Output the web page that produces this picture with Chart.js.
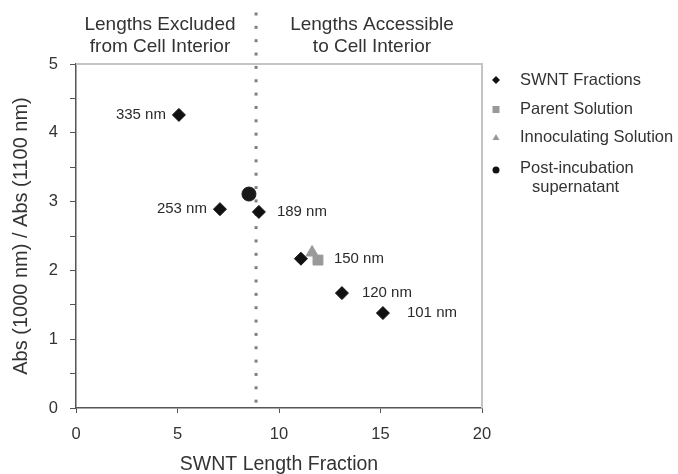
<!DOCTYPE html>
<html>
<head>
<meta charset="utf-8">
<script src="https://cdn.jsdelivr.net/npm/chart.js@4/dist/chart.umd.min.js"></script>
<style>
  html, body { margin: 0; padding: 0; background: #fff; }
  #wrap { width: 678px; height: 474px; }
</style>
</head>
<body>
<div id="wrap"><canvas id="myChart" width="678" height="474"></canvas></div>
<script>
// SWNT fractions
const fractionX = [5.07, 7.09, 9.01, 11.08, 13.1, 15.12];
const fractionY = [4.26, 2.89, 2.85, 2.17, 1.67, 1.38];
const fractionLabels = ['335 nm', '253 nm', '189 nm', '150 nm', '120 nm', '101 nm'];
// single points
const parentPoint = [11.92, 2.15];
const innocPoint = [11.63, 2.26];
const postPoint = [8.52, 3.11];
const cutoffX = 8.87;
const xTicks = [0, 5, 10, 15, 20];
const yTicks = [0, 1, 2, 3, 4, 5];

const FONT = '"Liberation Sans", Arial, sans-serif';
// label offsets from point (px), negative = text ends left of point
const labelGap = [-13, -13, 18, 33, 20, 24];

const extras = {
    id: 'extras',
    beforeDatasetsDraw(chart) {
        const { ctx, chartArea: a, scales: { x } } = chart;
        ctx.save();
        ctx.strokeStyle = '#c4c4c4';
        ctx.lineWidth = 2;
        ctx.beginPath();
        ctx.moveTo(a.left, a.top);
        ctx.lineTo(a.right, a.top);
        ctx.lineTo(a.right, a.bottom);
        ctx.stroke();
        // dotted cutoff line
        const cx = x.getPixelForValue(cutoffX);
        ctx.fillStyle = '#808080';
        for (let py = 14; py < a.bottom - 2; py += 13.35) {
            ctx.fillRect(cx - 1.5, py - 1.5, 3, 3);
        }
        ctx.restore();
    },
    afterDatasetsDraw(chart) {
        const { ctx, scales: { x, y } } = chart;
        ctx.save();
        ctx.fillStyle = '#2a2a2a';
        ctx.font = '15px ' + FONT;
        ctx.textBaseline = 'middle';
        fractionX.forEach((v, i) => {
            const px = x.getPixelForValue(v);
            const py = y.getPixelForValue(fractionY[i]);
            ctx.textAlign = labelGap[i] < 0 ? 'right' : 'left';
            ctx.fillText(fractionLabels[i], px + labelGap[i], py);
        });
        // header texts
        ctx.font = '19px ' + FONT;
        ctx.fillStyle = '#333';
        ctx.textAlign = 'center';
        ctx.fillText('Lengths Excluded', 160, 25);
        ctx.fillText('from Cell Interior', 160, 47);
        ctx.fillText('Lengths Accessible', 372, 25);
        ctx.fillText('to Cell Interior', 372, 47);
        // legend
        ctx.font = '16.5px ' + FONT;
        ctx.textAlign = 'left';
        const lx = 496, tx = 520;
        ctx.fillStyle = '#111';
        ctx.beginPath();
        ctx.moveTo(lx, 76); ctx.lineTo(lx + 4, 80); ctx.lineTo(lx, 84); ctx.lineTo(lx - 4, 80);
        ctx.fill();
        ctx.fillStyle = '#333';
        ctx.fillText('SWNT Fractions', tx, 80);
        ctx.fillStyle = '#999';
        ctx.fillRect(lx - 3.5, 106, 7, 7);
        ctx.fillStyle = '#333';
        ctx.fillText('Parent Solution', tx, 109);
        ctx.fillStyle = '#999';
        ctx.beginPath();
        ctx.moveTo(lx, 134); ctx.lineTo(lx + 3.5, 140); ctx.lineTo(lx - 3.5, 140);
        ctx.fill();
        ctx.fillStyle = '#333';
        ctx.fillText('Innoculating Solution', tx, 137);
        ctx.fillStyle = '#111';
        ctx.beginPath();
        ctx.arc(lx, 170, 3.5, 0, Math.PI * 2);
        ctx.fill();
        ctx.fillStyle = '#333';
        ctx.fillText('Post-incubation', tx, 168);
        ctx.fillText('supernatant', tx + 12, 187);
        ctx.restore();
    }
};

const ctx = document.getElementById('myChart').getContext('2d');
const chart = new Chart(ctx, {
    type: 'scatter',
    data: {
        datasets: [
            {
                label: 'Post-incubation supernatant',
                data: [{ x: postPoint[0], y: postPoint[1] }],
                pointStyle: 'circle', pointRadius: 7,
                backgroundColor: '#1a1a1a', borderColor: '#1a1a1a'
            },
            {
                label: 'Innoculating Solution',
                data: [{ x: innocPoint[0], y: innocPoint[1] }],
                pointStyle: 'triangle', pointRadius: 7,
                backgroundColor: '#9a9a9a', borderColor: '#9a9a9a'
            },
            {
                label: 'Parent Solution',
                data: [{ x: parentPoint[0], y: parentPoint[1] }],
                pointStyle: 'rect', pointRadius: 7,
                backgroundColor: '#999', borderColor: '#999'
            },
            {
                label: 'SWNT Fractions',
                data: fractionX.map((v, i) => ({ x: v, y: fractionY[i] })),
                pointStyle: 'rectRot', pointRadius: 6.5,
                backgroundColor: '#111', borderColor: '#111'
            }
        ]
    },
    options: {
        responsive: false,
        animation: false,
        layout: { padding: { top: 64, right: 196, left: 0, bottom: 0 } },
        plugins: { legend: { display: false }, tooltip: { enabled: false } },
        scales: {
            x: {
                min: 0, max: 20,
                afterFit: s => { s.height = 66; },
                afterBuildTicks: s => { s.ticks = xTicks.map(v => ({ value: v })); },
                ticks: { font: { family: FONT, size: 16.5 }, color: '#333', padding: 12 },
                grid: { drawOnChartArea: false, tickLength: 5, color: '#555' },
                border: { color: '#555', width: 1.5 },
                title: {
                    display: true, text: 'SWNT Length Fraction',
                    font: { family: FONT, size: 19.5, lineHeight: 1 }, color: '#333',
                    padding: { top: 0, bottom: 0 }
                }
            },
            y: {
                min: 0, max: 5,
                afterFit: s => { s.width = 76; },
                ticks: {
                    stepSize: 0.5, font: { family: FONT, size: 16.5 }, color: '#333', padding: 12,
                    callback: v => (yTicks.includes(v) ? String(v) : '')
                },
                grid: { drawOnChartArea: false, tickLength: 6, color: '#555' },
                border: { color: '#555', width: 1.5 },
                title: {
                    display: true, text: 'Abs (1000 nm) / Abs (1100 nm)',
                    font: { family: FONT, size: 20, lineHeight: 1 }, color: '#333',
                    padding: { top: 11, bottom: 0 }
                }
            }
        }
    },
    plugins: [extras]
});
</script>
</body>
</html>
